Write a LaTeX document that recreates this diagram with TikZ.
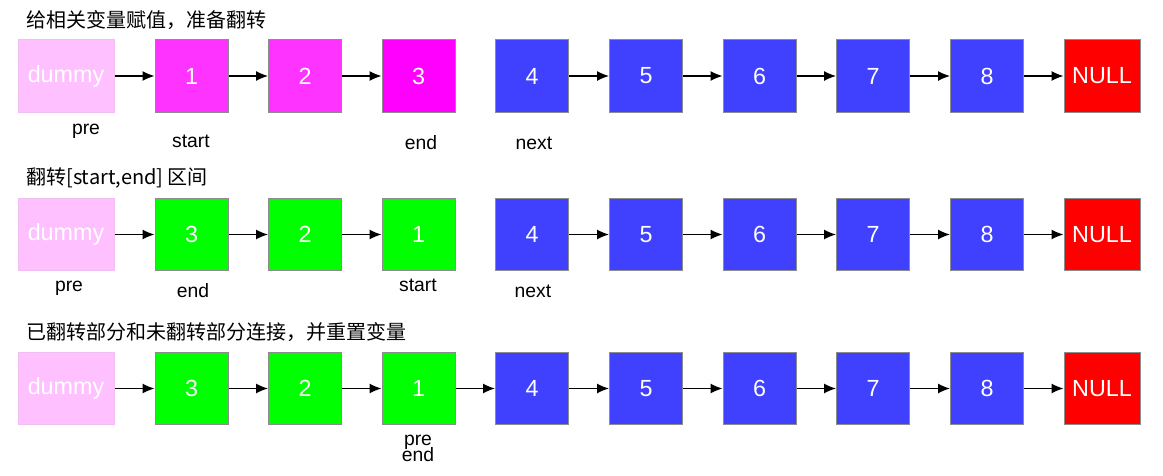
\documentclass[tikz,border=0pt]{standalone}
\usepackage{fontspec}
\setmainfont{Liberation Sans}
\newfontfamily\cjk{Noto Sans CJK SC}
\usetikzlibrary{arrows.meta}

\definecolor{dummypink}{RGB}{255,192,255}
\definecolor{dummyline}{RGB}{240,190,240}
\definecolor{lightmag}{RGB}{255,51,255}
\definecolor{fullmag}{RGB}{255,0,255}
\definecolor{nodeblue}{RGB}{64,64,255}
\definecolor{nodegreen}{RGB}{0,255,0}
\definecolor{nullred}{RGB}{255,0,0}
\definecolor{edgegray}{RGB}{140,140,140}

\tikzset{
  box/.style={draw=edgegray, line width=0.75pt, minimum width=54.75pt, minimum height=54.5pt,
    inner sep=0pt, text=white, font=\fontsize{17.5}{17.5}\selectfont},
  dummybox/.style={box, draw=dummyline, fill=dummypink, minimum width=72pt},
  magbox/.style={box, fill=lightmag},
  bluebox/.style={box, fill=nodeblue},
  greenbox/.style={box, fill=nodegreen},
  nullbox/.style={box, fill=nullred, minimum width=57pt},
  ptr/.style={font=\fontsize{14.5}{14.5}\selectfont, inner sep=0.75pt},
  title/.style={anchor=west, font=\cjk\fontsize{15}{15}\selectfont, inner sep=0.75pt},
  link/.style={-{Latex[length=9pt,width=7.5pt]}, line width=0.9pt},
}

\begin{document}
\begin{tikzpicture}[x=0.75pt,y=0.75pt,yscale=-1,xscale=1]
\useasboundingbox (0,0) rectangle (1163,475);

% Row 1
\node [title] (t1) at (25,20) {给相关变量赋值，准备翻转};
\node [dummybox] (a0) at (66,76) {dummy};
\node [magbox] (a1) at (191.5,76) {1};
\node [magbox] (a2) at (305,76) {2};
\node [magbox, fill=fullmag] (a3) at (418.5,76) {3};
\node [bluebox] (a4) at (532,76) {4};
\node [bluebox] (a5) at (646,76) {5};
\node [bluebox] (a6) at (759.5,76) {6};
\node [bluebox] (a7) at (873,76) {7};
\node [bluebox] (a8) at (987,76) {8};
\node [nullbox] (a9) at (1102,76) {NULL};
\foreach \i/\j in {a0/a1,a1/a2,a2/a3,a4/a5,a5/a6,a6/a7,a7/a8,a8/a9}
  \draw [link] (\i) -- (\j);
% Text Node
\node [ptr] (pre1) at (86,131) {pre};
\node [ptr] (start1) at (191,141) {start};
\node [ptr] (end1) at (421,143) {end};
\node [ptr] (next1) at (534,143) {next};

% Row 2
\node [title] (t2) at (25,178) {翻转[start,end] 区间};
\node [dummybox] (b0) at (66,234.5) {dummy};
\node [greenbox] (b1) at (191.5,234.5) {3};
\node [greenbox] (b2) at (305,234.5) {2};
\node [greenbox] (b3) at (418.5,234.5) {1};
\node [bluebox] (b4) at (532,234.5) {4};
\node [bluebox] (b5) at (646,234.5) {5};
\node [bluebox] (b6) at (759.5,234.5) {6};
\node [bluebox] (b7) at (873,234.5) {7};
\node [bluebox] (b8) at (987,234.5) {8};
\node [nullbox] (b9) at (1102,234.5) {NULL};
\foreach \i/\j in {b0/b1,b1/b2,b2/b3,b4/b5,b5/b6,b6/b7,b7/b8,b8/b9}
  \draw [link] (\i) -- (\j);
% Text Node
\node [ptr] (pre2) at (69,288) {pre};
\node [ptr] (end2) at (193,291) {end};
\node [ptr] (start2) at (418,285) {start};
\node [ptr] (next2) at (533,291) {next};

% Row 3
\node [title] (t3) at (25,332) {已翻转部分和未翻转部分连接，并重置变量};
\node [dummybox] (c0) at (66,388.5) {dummy};
\node [greenbox] (c1) at (191.5,388.5) {3};
\node [greenbox] (c2) at (305,388.5) {2};
\node [greenbox] (c3) at (418.5,388.5) {1};
\node [bluebox] (c4) at (532,388.5) {4};
\node [bluebox] (c5) at (646,388.5) {5};
\node [bluebox] (c6) at (759.5,388.5) {6};
\node [bluebox] (c7) at (873,388.5) {7};
\node [bluebox] (c8) at (987,388.5) {8};
\node [nullbox] (c9) at (1102,388.5) {NULL};
\foreach \i/\j in {c0/c1,c1/c2,c2/c3,c3/c4,c4/c5,c5/c6,c6/c7,c7/c8,c8/c9}
  \draw [link] (\i) -- (\j);
% Text Node
\node [ptr] (pre3) at (418,442) {pre};
\node [ptr] (end3) at (418,455) {end};

\end{tikzpicture}
\end{document}
